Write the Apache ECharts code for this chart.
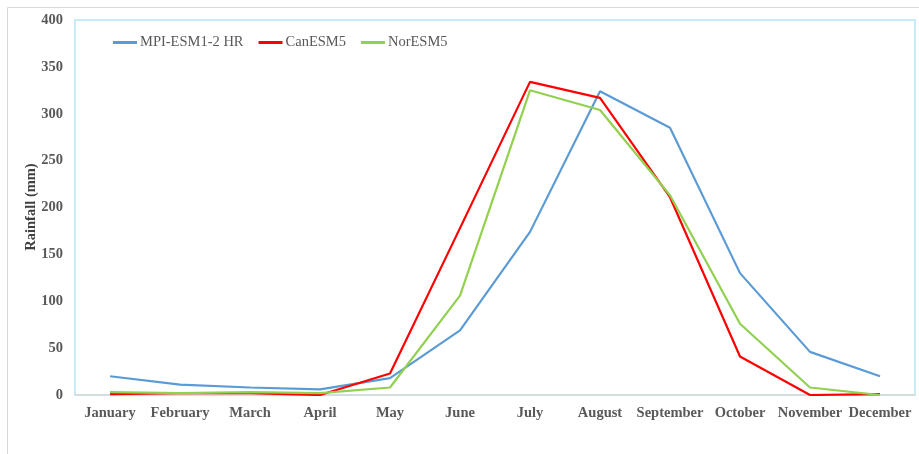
<!DOCTYPE html>
<html><head><meta charset="utf-8">
<script src="https://cdn.jsdelivr.net/npm/echarts@6/dist/echarts.min.js"></script>
<style>html,body{margin:0;padding:0;background:#fff}#c{width:919px;height:454px}</style>
</head><body><div id="c"></div>
<script>
var months = ['January','February','March','April','May','June','July','August','September','October','November','December'];
var mpi = [20, 11, 8, 6, 18, 69, 174, 324, 285, 130, 46, 20];
var can = [1, 2, 2, 0, 23, 178, 334, 317, 211, 41, 0, 1];
var nor = [3, 2, 3, 2, 8, 106, 325, 304, 213, 76, 8, 0];
var yTicks = [0, 50, 100, 150, 200, 250, 300, 350, 400];
var yTitle = 'Rainfall (mm)';

var chart = echarts.init(document.getElementById('c'), null, {renderer: 'canvas'});
var lbl = {fontFamily: 'Liberation Serif', fontWeight: 'bold', fontSize: 14.5, color: '#595959'};
function s(name, data, color) {
  return {name: name, type: 'line', data: data, symbol: 'none', smooth: false,
    lineStyle: {color: color, width: 2.2}, itemStyle: {color: color}};
}
chart.setOption({
  animation: false,
  graphic: [
    {type: 'rect', left: 5, top: 5, shape: {width: 1000, height: 1000},
      style: {fill: 'none', stroke: '#d9d9d9', lineWidth: 1}, z: -10},
    {type: 'text', x: 31, y: 207, rotation: Math.PI / 2,
      style: {text: yTitle, align: 'center', verticalAlign: 'middle',
        font: 'bold 14.5px "Liberation Serif"', fill: '#404040'}}
  ],
  grid: {left: 75, right: 4, top: 20, bottom: 59, show: true, borderColor: '#b3e5f7', borderWidth: 1.5, backgroundColor: 'transparent'},
  legend: {left: 108, top: 30, itemWidth: 24, itemHeight: 3, itemGap: 15,
    icon: 'rect',
    textStyle: {fontFamily: 'Liberation Serif', fontSize: 14.5, color: '#595959', padding: [0,0,0,-2]},
    data: ['MPI-ESM1-2 HR', 'CanESM5', 'NorESM5']},
  xAxis: {type: 'category', data: months, boundaryGap: true,
    axisLine: {show: true, lineStyle: {color: '#d9d9d9', width: 1.5}},
    axisTick: {show: false},
    axisLabel: Object.assign({margin: 11, interval: 0}, lbl)},
  yAxis: {type: 'value', min: 0, max: 400, interval: 50,
    axisLine: {show: false}, axisTick: {show: false}, splitLine: {show: false},
    axisLabel: Object.assign({margin: 12, formatter: function(v){ return yTicks.indexOf(v) >= 0 ? String(v) : ''; }}, lbl)},
  series: [s('MPI-ESM1-2 HR', mpi, '#5b9bd5'), s('CanESM5', can, '#ff0000'), s('NorESM5', nor, '#92d050')]
});
</script></body></html>
